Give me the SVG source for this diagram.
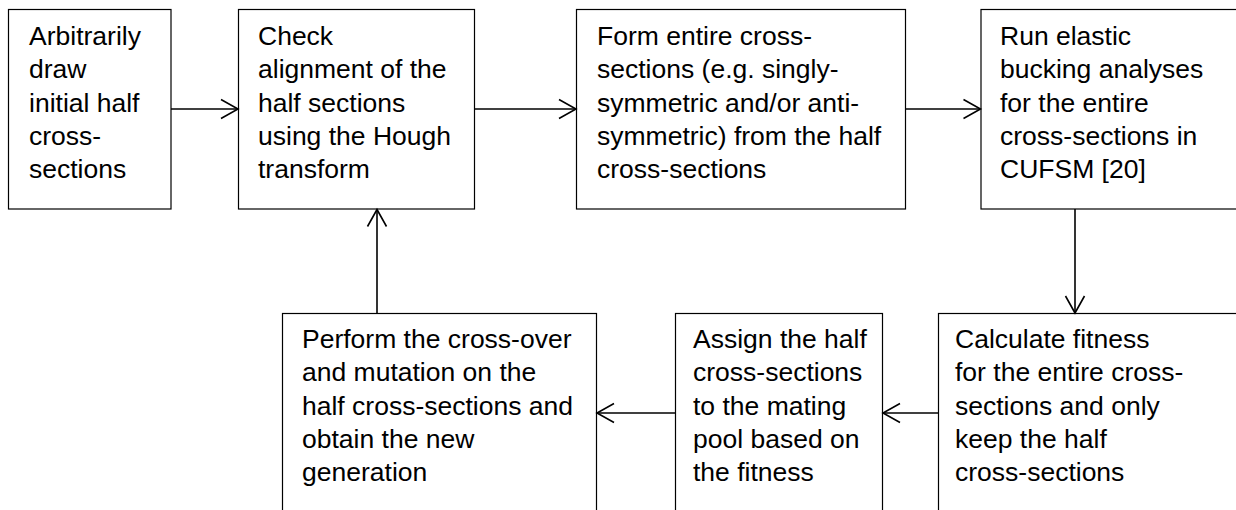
<svg xmlns="http://www.w3.org/2000/svg" width="1236" height="510" viewBox="0 0 1236 510">
<style>
.box{fill:#fff;stroke:#000;stroke-width:1.2}
.t{font-family:"Liberation Sans",Arial,sans-serif;font-size:26.5px;fill:#000}
.c{fill:none;stroke:#000;stroke-width:1.6}
</style>
<defs>
<marker id="ah" markerUnits="userSpaceOnUse" markerWidth="24" markerHeight="24" refX="17" refY="10" orient="auto" overflow="visible">
<path d="M0,0.5 L17,10 L0,19.5" fill="none" stroke="#000" stroke-width="1.6"/>
</marker>
</defs>
<rect width="1236" height="510" fill="#fff"/>
<g id="n1"><rect class="box" x="8.5" y="9.5" width="162.5" height="199.5"/>
<text class="t" x="29" y="45"><tspan x="29">Arbitrarily</tspan><tspan x="29" dy="33.3">draw</tspan><tspan x="29" dy="33.3">initial half</tspan><tspan x="29" dy="33.3">cross-</tspan><tspan x="29" dy="33.3">sections</tspan></text></g>
<g id="n2"><rect class="box" x="238.5" y="9.5" width="236" height="199.5"/>
<text class="t" x="258" y="45"><tspan x="258">Check</tspan><tspan x="258" dy="33.3">alignment of the</tspan><tspan x="258" dy="33.3">half sections</tspan><tspan x="258" dy="33.3">using the Hough</tspan><tspan x="258" dy="33.3">transform</tspan></text></g>
<g id="n3"><rect class="box" x="576.5" y="9.5" width="329" height="199.5"/>
<text class="t" x="597" y="45"><tspan x="597">Form entire cross-</tspan><tspan x="597" dy="33.3">sections (e.g. singly-</tspan><tspan x="597" dy="33.3">symmetric and/or anti-</tspan><tspan x="597" dy="33.3">symmetric) from the half</tspan><tspan x="597" dy="33.3">cross-sections</tspan></text></g>
<g id="n4"><rect class="box" x="981" y="9.5" width="270" height="199.5"/>
<text class="t" x="1000" y="45"><tspan x="1000">Run elastic</tspan><tspan x="1000" dy="33.3">bucking analyses</tspan><tspan x="1000" dy="33.3">for the entire</tspan><tspan x="1000" dy="33.3">cross-sections in</tspan><tspan x="1000" dy="33.3">CUFSM [20]</tspan></text></g>
<g id="n5"><rect class="box" x="282.5" y="313.5" width="314" height="210"/>
<text class="t" x="302" y="348"><tspan x="302">Perform the cross-over</tspan><tspan x="302" dy="33.3">and mutation on the</tspan><tspan x="302" dy="33.3">half cross-sections and</tspan><tspan x="302" dy="33.3">obtain the new</tspan><tspan x="302" dy="33.3">generation</tspan></text></g>
<g id="n6"><rect class="box" x="675.5" y="313.5" width="207" height="210"/>
<text class="t" x="693" y="348"><tspan x="693">Assign the half</tspan><tspan x="693" dy="33.3">cross-sections</tspan><tspan x="693" dy="33.3">to the mating</tspan><tspan x="693" dy="33.3">pool based on</tspan><tspan x="693" dy="33.3">the fitness</tspan></text></g>
<g id="n7"><rect class="box" x="938.5" y="313.5" width="320" height="210"/>
<text class="t" x="955" y="348"><tspan x="955">Calculate fitness</tspan><tspan x="955" dy="33.3">for the entire cross-</tspan><tspan x="955" dy="33.3">sections and only</tspan><tspan x="955" dy="33.3">keep the half</tspan><tspan x="955" dy="33.3">cross-sections</tspan></text></g>
<g id="connectors">
<line class="c" x1="171" y1="109" x2="238" y2="109" marker-end="url(#ah)"/>
<line class="c" x1="475" y1="109" x2="576" y2="109" marker-end="url(#ah)"/>
<line class="c" x1="906" y1="109" x2="980.5" y2="109" marker-end="url(#ah)"/>
<line class="c" x1="1075" y1="209" x2="1075" y2="313" marker-end="url(#ah)"/>
<line class="c" x1="938" y1="413" x2="883" y2="413" marker-end="url(#ah)"/>
<line class="c" x1="675" y1="413" x2="597" y2="413" marker-end="url(#ah)"/>
<line class="c" x1="377" y1="313" x2="377" y2="209.5" marker-end="url(#ah)"/>
</g>
</svg>
